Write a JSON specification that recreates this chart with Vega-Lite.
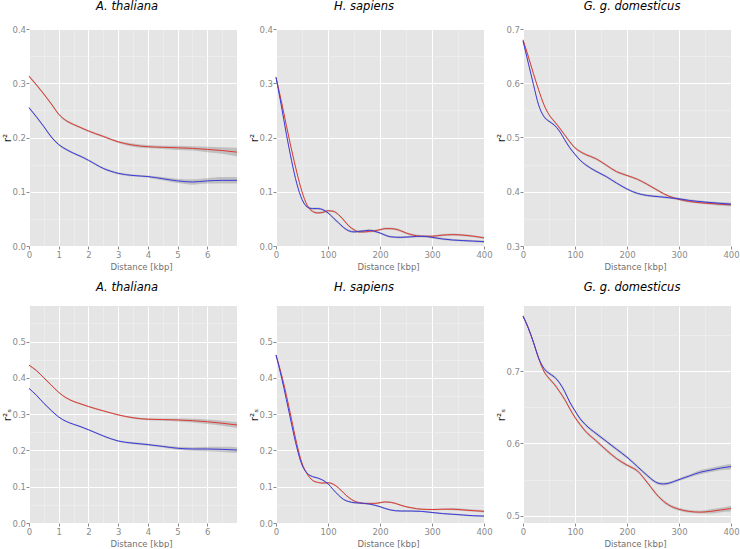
{
  "$schema": "https://vega.github.io/schema/vega-lite/v6.json",
  "padding": {"left": 2, "top": 0, "right": 0, "bottom": 0},
  "background": "white",
  "config": {
    "view": {"fill": "#e5e5e5", "stroke": null},
    "axis": {"domain": false, "labelColor": "#8a8a8a", "labelFontSize": 8.5, "labelFont": "DejaVu Sans", "tickColor": "#8a8a8a", "tickSize": 3, "labelOverlap": false, "labelFlush": false, "titleFont": "DejaVu Sans", "titleFontWeight": "normal"},
    "axisX": {"labelPadding": 1.5, "titleFontSize": 8.5, "titleFontWeight": "normal", "titleColor": "#707070", "titleBaseline": "alphabetic", "titleY": 23, "titleX": 112},
    "axisY": {"labelPadding": 0.5, "titleFontSize": 10.5, "titleFontWeight": "normal", "titleColor": "#111111", "titleAngle": -90, "titleBaseline": "alphabetic", "titleX": -19, "titleY": 108.5},
    "title": {"font": "DejaVu Sans", "fontSize": 11.5, "fontStyle": "italic", "fontWeight": "normal", "color": "#000000", "anchor": "middle", "frame": "group", "baseline": "alphabetic", "offset": 13}
  },
  "datasets": {
    "d": [
      {"p":"a1","s":"r","x":0,"y":0.313,"e":0.002},{"p":"a1","s":"r","x":0.25,"y":0.297,"e":0.002},{"p":"a1","s":"r","x":0.5,"y":0.280,"e":0.002},{"p":"a1","s":"r","x":0.75,"y":0.262,"e":0.002},{"p":"a1","s":"r","x":1,"y":0.243,"e":0.002},{"p":"a1","s":"r","x":1.25,"y":0.231,"e":0.002},{"p":"a1","s":"r","x":1.5,"y":0.224,"e":0.002},{"p":"a1","s":"r","x":1.75,"y":0.218,"e":0.002},{"p":"a1","s":"r","x":2,"y":0.212,"e":0.002},{"p":"a1","s":"r","x":2.5,"y":0.202,"e":0.002},{"p":"a1","s":"r","x":3,"y":0.192,"e":0.002},{"p":"a1","s":"r","x":3.5,"y":0.186,"e":0.003},{"p":"a1","s":"r","x":4,"y":0.183,"e":0.003},{"p":"a1","s":"r","x":4.5,"y":0.182,"e":0.003},{"p":"a1","s":"r","x":5,"y":0.181,"e":0.004},{"p":"a1","s":"r","x":5.5,"y":0.180,"e":0.004},{"p":"a1","s":"r","x":6,"y":0.178,"e":0.005},{"p":"a1","s":"r","x":6.5,"y":0.176,"e":0.006},{"p":"a1","s":"r","x":7,"y":0.173,"e":0.008},
      {"p":"a1","s":"b","x":0,"y":0.255,"e":0.002},{"p":"a1","s":"b","x":0.25,"y":0.238,"e":0.002},{"p":"a1","s":"b","x":0.5,"y":0.220,"e":0.002},{"p":"a1","s":"b","x":0.75,"y":0.201,"e":0.002},{"p":"a1","s":"b","x":1,"y":0.187,"e":0.002},{"p":"a1","s":"b","x":1.25,"y":0.178,"e":0.002},{"p":"a1","s":"b","x":1.5,"y":0.171,"e":0.002},{"p":"a1","s":"b","x":1.75,"y":0.165,"e":0.002},{"p":"a1","s":"b","x":2,"y":0.158,"e":0.002},{"p":"a1","s":"b","x":2.5,"y":0.143,"e":0.002},{"p":"a1","s":"b","x":3,"y":0.134,"e":0.002},{"p":"a1","s":"b","x":3.5,"y":0.130,"e":0.002},{"p":"a1","s":"b","x":4,"y":0.128,"e":0.002},{"p":"a1","s":"b","x":4.5,"y":0.124,"e":0.003},{"p":"a1","s":"b","x":5,"y":0.120,"e":0.004},{"p":"a1","s":"b","x":5.5,"y":0.118,"e":0.005},{"p":"a1","s":"b","x":6,"y":0.120,"e":0.005},{"p":"a1","s":"b","x":6.5,"y":0.121,"e":0.006},{"p":"a1","s":"b","x":7,"y":0.121,"e":0.006},

      {"p":"h1","s":"r","x":0,"y":0.311,"e":0.002},{"p":"h1","s":"r","x":10,"y":0.268,"e":0.002},{"p":"h1","s":"r","x":20,"y":0.222,"e":0.002},{"p":"h1","s":"r","x":30,"y":0.177,"e":0.002},{"p":"h1","s":"r","x":40,"y":0.136,"e":0.002},{"p":"h1","s":"r","x":50,"y":0.100,"e":0.002},{"p":"h1","s":"r","x":60,"y":0.075,"e":0.002},{"p":"h1","s":"r","x":70,"y":0.064,"e":0.002},{"p":"h1","s":"r","x":80,"y":0.061,"e":0.002},{"p":"h1","s":"r","x":90,"y":0.062,"e":0.002},{"p":"h1","s":"r","x":100,"y":0.065,"e":0.002},{"p":"h1","s":"r","x":110,"y":0.064,"e":0.002},{"p":"h1","s":"r","x":120,"y":0.058,"e":0.002},{"p":"h1","s":"r","x":130,"y":0.048,"e":0.002},{"p":"h1","s":"r","x":140,"y":0.037,"e":0.002},{"p":"h1","s":"r","x":150,"y":0.030,"e":0.002},{"p":"h1","s":"r","x":160,"y":0.026,"e":0.002},{"p":"h1","s":"r","x":170,"y":0.026,"e":0.002},{"p":"h1","s":"r","x":180,"y":0.027,"e":0.002},{"p":"h1","s":"r","x":190,"y":0.028,"e":0.002},{"p":"h1","s":"r","x":200,"y":0.030,"e":0.002},{"p":"h1","s":"r","x":210,"y":0.032,"e":0.002},{"p":"h1","s":"r","x":220,"y":0.032,"e":0.002},{"p":"h1","s":"r","x":230,"y":0.031,"e":0.002},{"p":"h1","s":"r","x":240,"y":0.028,"e":0.002},{"p":"h1","s":"r","x":250,"y":0.024,"e":0.002},{"p":"h1","s":"r","x":260,"y":0.021,"e":0.002},{"p":"h1","s":"r","x":270,"y":0.019,"e":0.002},{"p":"h1","s":"r","x":280,"y":0.018,"e":0.002},{"p":"h1","s":"r","x":300,"y":0.018,"e":0.002},{"p":"h1","s":"r","x":320,"y":0.020,"e":0.002},{"p":"h1","s":"r","x":340,"y":0.021,"e":0.002},{"p":"h1","s":"r","x":360,"y":0.020,"e":0.002},{"p":"h1","s":"r","x":380,"y":0.018,"e":0.002},{"p":"h1","s":"r","x":400,"y":0.015,"e":0.002},
      {"p":"h1","s":"b","x":0,"y":0.311,"e":0.002},{"p":"h1","s":"b","x":10,"y":0.260,"e":0.002},{"p":"h1","s":"b","x":20,"y":0.206,"e":0.002},{"p":"h1","s":"b","x":30,"y":0.157,"e":0.002},{"p":"h1","s":"b","x":40,"y":0.115,"e":0.002},{"p":"h1","s":"b","x":50,"y":0.086,"e":0.002},{"p":"h1","s":"b","x":60,"y":0.072,"e":0.002},{"p":"h1","s":"b","x":70,"y":0.069,"e":0.002},{"p":"h1","s":"b","x":80,"y":0.069,"e":0.002},{"p":"h1","s":"b","x":90,"y":0.067,"e":0.002},{"p":"h1","s":"b","x":100,"y":0.061,"e":0.002},{"p":"h1","s":"b","x":110,"y":0.052,"e":0.002},{"p":"h1","s":"b","x":120,"y":0.043,"e":0.002},{"p":"h1","s":"b","x":130,"y":0.034,"e":0.002},{"p":"h1","s":"b","x":140,"y":0.028,"e":0.002},{"p":"h1","s":"b","x":150,"y":0.026,"e":0.002},{"p":"h1","s":"b","x":160,"y":0.027,"e":0.002},{"p":"h1","s":"b","x":170,"y":0.028,"e":0.002},{"p":"h1","s":"b","x":180,"y":0.029,"e":0.002},{"p":"h1","s":"b","x":190,"y":0.027,"e":0.002},{"p":"h1","s":"b","x":200,"y":0.024,"e":0.002},{"p":"h1","s":"b","x":210,"y":0.020,"e":0.002},{"p":"h1","s":"b","x":220,"y":0.017,"e":0.002},{"p":"h1","s":"b","x":240,"y":0.016,"e":0.002},{"p":"h1","s":"b","x":260,"y":0.017,"e":0.002},{"p":"h1","s":"b","x":280,"y":0.018,"e":0.002},{"p":"h1","s":"b","x":300,"y":0.016,"e":0.002},{"p":"h1","s":"b","x":320,"y":0.013,"e":0.002},{"p":"h1","s":"b","x":340,"y":0.011,"e":0.002},{"p":"h1","s":"b","x":360,"y":0.010,"e":0.002},{"p":"h1","s":"b","x":380,"y":0.009,"e":0.002},{"p":"h1","s":"b","x":400,"y":0.008,"e":0.002},

      {"p":"g1","s":"r","x":0,"y":0.680,"e":0.002},{"p":"g1","s":"r","x":10,"y":0.650,"e":0.002},{"p":"g1","s":"r","x":20,"y":0.618,"e":0.002},{"p":"g1","s":"r","x":30,"y":0.588,"e":0.002},{"p":"g1","s":"r","x":40,"y":0.561,"e":0.002},{"p":"g1","s":"r","x":50,"y":0.542,"e":0.002},{"p":"g1","s":"r","x":60,"y":0.530,"e":0.002},{"p":"g1","s":"r","x":70,"y":0.518,"e":0.002},{"p":"g1","s":"r","x":80,"y":0.505,"e":0.002},{"p":"g1","s":"r","x":90,"y":0.492,"e":0.002},{"p":"g1","s":"r","x":100,"y":0.481,"e":0.002},{"p":"g1","s":"r","x":110,"y":0.474,"e":0.002},{"p":"g1","s":"r","x":120,"y":0.469,"e":0.002},{"p":"g1","s":"r","x":140,"y":0.461,"e":0.002},{"p":"g1","s":"r","x":160,"y":0.449,"e":0.002},{"p":"g1","s":"r","x":180,"y":0.437,"e":0.002},{"p":"g1","s":"r","x":200,"y":0.430,"e":0.002},{"p":"g1","s":"r","x":220,"y":0.423,"e":0.002},{"p":"g1","s":"r","x":240,"y":0.413,"e":0.002},{"p":"g1","s":"r","x":260,"y":0.402,"e":0.002},{"p":"g1","s":"r","x":280,"y":0.392,"e":0.002},{"p":"g1","s":"r","x":300,"y":0.386,"e":0.002},{"p":"g1","s":"r","x":320,"y":0.382,"e":0.002},{"p":"g1","s":"r","x":350,"y":0.379,"e":0.002},{"p":"g1","s":"r","x":400,"y":0.376,"e":0.003},
      {"p":"g1","s":"b","x":0,"y":0.678,"e":0.002},{"p":"g1","s":"b","x":10,"y":0.638,"e":0.002},{"p":"g1","s":"b","x":20,"y":0.598,"e":0.002},{"p":"g1","s":"b","x":30,"y":0.560,"e":0.002},{"p":"g1","s":"b","x":40,"y":0.539,"e":0.002},{"p":"g1","s":"b","x":50,"y":0.530,"e":0.002},{"p":"g1","s":"b","x":60,"y":0.523,"e":0.002},{"p":"g1","s":"b","x":70,"y":0.512,"e":0.002},{"p":"g1","s":"b","x":80,"y":0.496,"e":0.002},{"p":"g1","s":"b","x":90,"y":0.481,"e":0.002},{"p":"g1","s":"b","x":100,"y":0.469,"e":0.002},{"p":"g1","s":"b","x":110,"y":0.458,"e":0.002},{"p":"g1","s":"b","x":120,"y":0.450,"e":0.002},{"p":"g1","s":"b","x":140,"y":0.438,"e":0.002},{"p":"g1","s":"b","x":160,"y":0.428,"e":0.002},{"p":"g1","s":"b","x":180,"y":0.416,"e":0.002},{"p":"g1","s":"b","x":200,"y":0.405,"e":0.002},{"p":"g1","s":"b","x":220,"y":0.397,"e":0.002},{"p":"g1","s":"b","x":240,"y":0.393,"e":0.002},{"p":"g1","s":"b","x":260,"y":0.391,"e":0.002},{"p":"g1","s":"b","x":280,"y":0.389,"e":0.002},{"p":"g1","s":"b","x":300,"y":0.387,"e":0.002},{"p":"g1","s":"b","x":320,"y":0.384,"e":0.002},{"p":"g1","s":"b","x":350,"y":0.381,"e":0.002},{"p":"g1","s":"b","x":400,"y":0.377,"e":0.003},

      {"p":"a2","s":"r","x":0,"y":0.435,"e":0.002},{"p":"a2","s":"r","x":0.25,"y":0.420,"e":0.002},{"p":"a2","s":"r","x":0.5,"y":0.400,"e":0.002},{"p":"a2","s":"r","x":0.75,"y":0.380,"e":0.002},{"p":"a2","s":"r","x":1,"y":0.360,"e":0.002},{"p":"a2","s":"r","x":1.25,"y":0.345,"e":0.002},{"p":"a2","s":"r","x":1.5,"y":0.335,"e":0.002},{"p":"a2","s":"r","x":1.75,"y":0.328,"e":0.002},{"p":"a2","s":"r","x":2,"y":0.321,"e":0.002},{"p":"a2","s":"r","x":2.5,"y":0.309,"e":0.002},{"p":"a2","s":"r","x":3,"y":0.298,"e":0.002},{"p":"a2","s":"r","x":3.5,"y":0.290,"e":0.003},{"p":"a2","s":"r","x":4,"y":0.286,"e":0.003},{"p":"a2","s":"r","x":4.5,"y":0.285,"e":0.003},{"p":"a2","s":"r","x":5,"y":0.284,"e":0.004},{"p":"a2","s":"r","x":5.5,"y":0.282,"e":0.005},{"p":"a2","s":"r","x":6,"y":0.279,"e":0.006},{"p":"a2","s":"r","x":6.5,"y":0.275,"e":0.007},{"p":"a2","s":"r","x":7,"y":0.270,"e":0.008},
      {"p":"a2","s":"b","x":0,"y":0.371,"e":0.002},{"p":"a2","s":"b","x":0.25,"y":0.352,"e":0.002},{"p":"a2","s":"b","x":0.5,"y":0.330,"e":0.002},{"p":"a2","s":"b","x":0.75,"y":0.310,"e":0.002},{"p":"a2","s":"b","x":1,"y":0.292,"e":0.002},{"p":"a2","s":"b","x":1.25,"y":0.280,"e":0.002},{"p":"a2","s":"b","x":1.5,"y":0.272,"e":0.002},{"p":"a2","s":"b","x":1.75,"y":0.265,"e":0.002},{"p":"a2","s":"b","x":2,"y":0.257,"e":0.002},{"p":"a2","s":"b","x":2.5,"y":0.240,"e":0.002},{"p":"a2","s":"b","x":3,"y":0.226,"e":0.002},{"p":"a2","s":"b","x":3.5,"y":0.220,"e":0.003},{"p":"a2","s":"b","x":4,"y":0.216,"e":0.003},{"p":"a2","s":"b","x":4.5,"y":0.211,"e":0.003},{"p":"a2","s":"b","x":5,"y":0.206,"e":0.004},{"p":"a2","s":"b","x":5.5,"y":0.204,"e":0.005},{"p":"a2","s":"b","x":6,"y":0.204,"e":0.006},{"p":"a2","s":"b","x":6.5,"y":0.203,"e":0.007},{"p":"a2","s":"b","x":7,"y":0.201,"e":0.008},

      {"p":"h2","s":"r","x":0,"y":0.463,"e":0.002},{"p":"h2","s":"r","x":10,"y":0.412,"e":0.002},{"p":"h2","s":"r","x":20,"y":0.352,"e":0.002},{"p":"h2","s":"r","x":30,"y":0.285,"e":0.002},{"p":"h2","s":"r","x":40,"y":0.218,"e":0.002},{"p":"h2","s":"r","x":50,"y":0.165,"e":0.002},{"p":"h2","s":"r","x":60,"y":0.135,"e":0.002},{"p":"h2","s":"r","x":70,"y":0.118,"e":0.002},{"p":"h2","s":"r","x":80,"y":0.112,"e":0.002},{"p":"h2","s":"r","x":90,"y":0.110,"e":0.002},{"p":"h2","s":"r","x":100,"y":0.111,"e":0.002},{"p":"h2","s":"r","x":110,"y":0.107,"e":0.002},{"p":"h2","s":"r","x":120,"y":0.097,"e":0.002},{"p":"h2","s":"r","x":130,"y":0.083,"e":0.002},{"p":"h2","s":"r","x":140,"y":0.070,"e":0.002},{"p":"h2","s":"r","x":150,"y":0.061,"e":0.002},{"p":"h2","s":"r","x":160,"y":0.056,"e":0.002},{"p":"h2","s":"r","x":170,"y":0.054,"e":0.002},{"p":"h2","s":"r","x":180,"y":0.054,"e":0.002},{"p":"h2","s":"r","x":190,"y":0.054,"e":0.002},{"p":"h2","s":"r","x":200,"y":0.056,"e":0.002},{"p":"h2","s":"r","x":210,"y":0.058,"e":0.002},{"p":"h2","s":"r","x":220,"y":0.057,"e":0.002},{"p":"h2","s":"r","x":230,"y":0.054,"e":0.002},{"p":"h2","s":"r","x":240,"y":0.049,"e":0.002},{"p":"h2","s":"r","x":260,"y":0.042,"e":0.002},{"p":"h2","s":"r","x":280,"y":0.038,"e":0.002},{"p":"h2","s":"r","x":300,"y":0.037,"e":0.002},{"p":"h2","s":"r","x":320,"y":0.038,"e":0.002},{"p":"h2","s":"r","x":340,"y":0.038,"e":0.003},{"p":"h2","s":"r","x":360,"y":0.036,"e":0.003},{"p":"h2","s":"r","x":380,"y":0.034,"e":0.003},{"p":"h2","s":"r","x":400,"y":0.032,"e":0.003},
      {"p":"h2","s":"b","x":0,"y":0.463,"e":0.002},{"p":"h2","s":"b","x":10,"y":0.405,"e":0.002},{"p":"h2","s":"b","x":20,"y":0.340,"e":0.002},{"p":"h2","s":"b","x":30,"y":0.272,"e":0.002},{"p":"h2","s":"b","x":40,"y":0.208,"e":0.002},{"p":"h2","s":"b","x":50,"y":0.160,"e":0.002},{"p":"h2","s":"b","x":60,"y":0.137,"e":0.002},{"p":"h2","s":"b","x":70,"y":0.128,"e":0.002},{"p":"h2","s":"b","x":80,"y":0.124,"e":0.002},{"p":"h2","s":"b","x":90,"y":0.118,"e":0.002},{"p":"h2","s":"b","x":100,"y":0.108,"e":0.002},{"p":"h2","s":"b","x":110,"y":0.092,"e":0.002},{"p":"h2","s":"b","x":120,"y":0.077,"e":0.002},{"p":"h2","s":"b","x":130,"y":0.065,"e":0.002},{"p":"h2","s":"b","x":140,"y":0.059,"e":0.002},{"p":"h2","s":"b","x":150,"y":0.056,"e":0.002},{"p":"h2","s":"b","x":160,"y":0.055,"e":0.002},{"p":"h2","s":"b","x":170,"y":0.054,"e":0.002},{"p":"h2","s":"b","x":180,"y":0.052,"e":0.002},{"p":"h2","s":"b","x":190,"y":0.049,"e":0.002},{"p":"h2","s":"b","x":200,"y":0.045,"e":0.002},{"p":"h2","s":"b","x":210,"y":0.040,"e":0.002},{"p":"h2","s":"b","x":220,"y":0.036,"e":0.002},{"p":"h2","s":"b","x":240,"y":0.033,"e":0.002},{"p":"h2","s":"b","x":260,"y":0.033,"e":0.002},{"p":"h2","s":"b","x":280,"y":0.032,"e":0.002},{"p":"h2","s":"b","x":300,"y":0.029,"e":0.002},{"p":"h2","s":"b","x":320,"y":0.026,"e":0.002},{"p":"h2","s":"b","x":340,"y":0.024,"e":0.002},{"p":"h2","s":"b","x":360,"y":0.022,"e":0.002},{"p":"h2","s":"b","x":380,"y":0.020,"e":0.002},{"p":"h2","s":"b","x":400,"y":0.019,"e":0.002},

      {"p":"g2","s":"r","x":0,"y":0.776,"e":0.002},{"p":"g2","s":"r","x":10,"y":0.760,"e":0.002},{"p":"g2","s":"r","x":20,"y":0.740,"e":0.002},{"p":"g2","s":"r","x":30,"y":0.718,"e":0.002},{"p":"g2","s":"r","x":40,"y":0.700,"e":0.002},{"p":"g2","s":"r","x":50,"y":0.690,"e":0.002},{"p":"g2","s":"r","x":60,"y":0.682,"e":0.002},{"p":"g2","s":"r","x":70,"y":0.672,"e":0.002},{"p":"g2","s":"r","x":80,"y":0.661,"e":0.002},{"p":"g2","s":"r","x":90,"y":0.648,"e":0.002},{"p":"g2","s":"r","x":100,"y":0.636,"e":0.002},{"p":"g2","s":"r","x":110,"y":0.626,"e":0.002},{"p":"g2","s":"r","x":120,"y":0.617,"e":0.002},{"p":"g2","s":"r","x":140,"y":0.604,"e":0.002},{"p":"g2","s":"r","x":160,"y":0.591,"e":0.002},{"p":"g2","s":"r","x":180,"y":0.579,"e":0.002},{"p":"g2","s":"r","x":200,"y":0.570,"e":0.002},{"p":"g2","s":"r","x":220,"y":0.562,"e":0.002},{"p":"g2","s":"r","x":240,"y":0.545,"e":0.002},{"p":"g2","s":"r","x":260,"y":0.527,"e":0.002},{"p":"g2","s":"r","x":280,"y":0.515,"e":0.002},{"p":"g2","s":"r","x":300,"y":0.509,"e":0.002},{"p":"g2","s":"r","x":320,"y":0.506,"e":0.002},{"p":"g2","s":"r","x":340,"y":0.505,"e":0.002},{"p":"g2","s":"r","x":360,"y":0.506,"e":0.003},{"p":"g2","s":"r","x":380,"y":0.508,"e":0.003},{"p":"g2","s":"r","x":400,"y":0.510,"e":0.004},
      {"p":"g2","s":"b","x":0,"y":0.776,"e":0.002},{"p":"g2","s":"b","x":10,"y":0.760,"e":0.002},{"p":"g2","s":"b","x":20,"y":0.740,"e":0.002},{"p":"g2","s":"b","x":30,"y":0.718,"e":0.002},{"p":"g2","s":"b","x":40,"y":0.704,"e":0.002},{"p":"g2","s":"b","x":50,"y":0.697,"e":0.002},{"p":"g2","s":"b","x":60,"y":0.692,"e":0.002},{"p":"g2","s":"b","x":70,"y":0.684,"e":0.002},{"p":"g2","s":"b","x":80,"y":0.672,"e":0.002},{"p":"g2","s":"b","x":90,"y":0.657,"e":0.002},{"p":"g2","s":"b","x":100,"y":0.645,"e":0.002},{"p":"g2","s":"b","x":110,"y":0.634,"e":0.002},{"p":"g2","s":"b","x":120,"y":0.626,"e":0.002},{"p":"g2","s":"b","x":140,"y":0.614,"e":0.002},{"p":"g2","s":"b","x":160,"y":0.603,"e":0.002},{"p":"g2","s":"b","x":180,"y":0.592,"e":0.002},{"p":"g2","s":"b","x":200,"y":0.581,"e":0.002},{"p":"g2","s":"b","x":220,"y":0.568,"e":0.002},{"p":"g2","s":"b","x":240,"y":0.555,"e":0.002},{"p":"g2","s":"b","x":250,"y":0.549,"e":0.002},{"p":"g2","s":"b","x":260,"y":0.545,"e":0.002},{"p":"g2","s":"b","x":270,"y":0.544,"e":0.002},{"p":"g2","s":"b","x":280,"y":0.545,"e":0.002},{"p":"g2","s":"b","x":300,"y":0.550,"e":0.002},{"p":"g2","s":"b","x":320,"y":0.555,"e":0.002},{"p":"g2","s":"b","x":340,"y":0.560,"e":0.003},{"p":"g2","s":"b","x":360,"y":0.563,"e":0.003},{"p":"g2","s":"b","x":380,"y":0.566,"e":0.003},{"p":"g2","s":"b","x":400,"y":0.568,"e":0.004}
    ]
  },
  "columns": 3,
  "spacing": {"row": 60, "column": 39},
  "bounds": "flush",
  "concat": [
    {
      "width": 208, "height": 217,
      "title": {"text": "A. thaliana", "dx": -6},
      "data": {"name": "d"},
      "transform": [{"filter": "datum.p === 'a1'"}],
      "encoding": {
        "x": {"field": "x", "type": "quantitative", "scale": {"domain": [0, 7], "nice": false, "zero": false},
          "axis": {"title": "Distance [kbp]", "format": ".0f", "values": [0,0.5,1,1.5,2,2.5,3,3.5,4,4.5,5,5.5,6,6.5], "labelExpr": "datum.value % 1 === 0 ? datum.label : ''",
            "gridColor": {"condition": {"test": "datum.value % 1 === 0", "value": "#ffffff"}, "value": "#f2f2f2"},
            "gridWidth": {"condition": {"test": "datum.value % 1 === 0", "value": 1}, "value": 0.5},
            "tickOpacity": {"condition": {"test": "datum.value % 1 === 0", "value": 1}, "value": 0}}},
        "y": {"field": "y", "type": "quantitative", "scale": {"domain": [0, 0.4], "nice": false, "zero": false},
          "axis": {"title": "r²", "format": ".1f", "values": [0,0.05,0.1,0.15,0.2,0.25,0.3,0.35,0.4], "labelExpr": "round(datum.value*100) % 10 === 0 ? datum.label : ''",
            "gridColor": {"condition": {"test": "round(datum.value*100) % 10 === 0", "value": "#ffffff"}, "value": "#f2f2f2"},
            "gridWidth": {"condition": {"test": "round(datum.value*100) % 10 === 0", "value": 1}, "value": 0.5},
            "tickOpacity": {"condition": {"test": "round(datum.value*100) % 10 === 0", "value": 1}, "value": 0}}}
      },
      "layer": [
        {"mark": {"type": "errorband", "interpolate": "monotone", "band": {"color": "#888888", "opacity": 0.4}}, "encoding": {"yError": {"field": "e"}, "detail": {"field": "s"}}},
        {"mark": {"type": "line", "interpolate": "monotone", "strokeWidth": 1}, "encoding": {"color": {"field": "s", "type": "nominal", "scale": {"domain": ["r", "b"], "range": ["#de3a32", "#3a3ade"]}, "legend": null}}}
      ]
    },
    {
      "width": 208, "height": 217,
      "title": {"text": "H. sapiens", "dx": -16},
      "data": {"name": "d"},
      "transform": [{"filter": "datum.p === 'h1'"}],
      "encoding": {
        "x": {"field": "x", "type": "quantitative", "scale": {"domain": [0, 400], "nice": false, "zero": false},
          "axis": {"title": "Distance [kbp]", "format": ".0f", "values": [0,50,100,150,200,250,300,350,400], "labelExpr": "datum.value % 100 === 0 ? datum.label : ''",
            "gridColor": {"condition": {"test": "datum.value % 100 === 0", "value": "#ffffff"}, "value": "#f2f2f2"},
            "gridWidth": {"condition": {"test": "datum.value % 100 === 0", "value": 1}, "value": 0.5},
            "tickOpacity": {"condition": {"test": "datum.value % 100 === 0", "value": 1}, "value": 0}}},
        "y": {"field": "y", "type": "quantitative", "scale": {"domain": [0, 0.4], "nice": false, "zero": false},
          "axis": {"title": "r²", "format": ".1f", "values": [0,0.05,0.1,0.15,0.2,0.25,0.3,0.35,0.4], "labelExpr": "round(datum.value*100) % 10 === 0 ? datum.label : ''",
            "gridColor": {"condition": {"test": "round(datum.value*100) % 10 === 0", "value": "#ffffff"}, "value": "#f2f2f2"},
            "gridWidth": {"condition": {"test": "round(datum.value*100) % 10 === 0", "value": 1}, "value": 0.5},
            "tickOpacity": {"condition": {"test": "round(datum.value*100) % 10 === 0", "value": 1}, "value": 0}}}
      },
      "layer": [
        {"mark": {"type": "errorband", "interpolate": "monotone", "band": {"color": "#888888", "opacity": 0.4}}, "encoding": {"yError": {"field": "e"}, "detail": {"field": "s"}}},
        {"mark": {"type": "line", "interpolate": "monotone", "strokeWidth": 1}, "encoding": {"color": {"field": "s", "type": "nominal", "scale": {"domain": ["r", "b"], "range": ["#de3a32", "#3a3ade"]}, "legend": null}}}
      ]
    },
    {
      "width": 208, "height": 217,
      "title": {"text": "G. g. domesticus", "dx": 5},
      "data": {"name": "d"},
      "transform": [{"filter": "datum.p === 'g1'"}],
      "encoding": {
        "x": {"field": "x", "type": "quantitative", "scale": {"domain": [0, 400], "nice": false, "zero": false},
          "axis": {"title": "Distance [kbp]", "format": ".0f", "values": [0,50,100,150,200,250,300,350,400], "labelExpr": "datum.value % 100 === 0 ? datum.label : ''",
            "gridColor": {"condition": {"test": "datum.value % 100 === 0", "value": "#ffffff"}, "value": "#f2f2f2"},
            "gridWidth": {"condition": {"test": "datum.value % 100 === 0", "value": 1}, "value": 0.5},
            "tickOpacity": {"condition": {"test": "datum.value % 100 === 0", "value": 1}, "value": 0}}},
        "y": {"field": "y", "type": "quantitative", "scale": {"domain": [0.3, 0.7], "nice": false, "zero": false},
          "axis": {"title": "r²", "format": ".1f", "values": [0.3,0.35,0.4,0.45,0.5,0.55,0.6,0.65,0.7], "labelExpr": "round(datum.value*100) % 10 === 0 ? datum.label : ''",
            "gridColor": {"condition": {"test": "round(datum.value*100) % 10 === 0", "value": "#ffffff"}, "value": "#f2f2f2"},
            "gridWidth": {"condition": {"test": "round(datum.value*100) % 10 === 0", "value": 1}, "value": 0.5},
            "tickOpacity": {"condition": {"test": "round(datum.value*100) % 10 === 0", "value": 1}, "value": 0}}}
      },
      "layer": [
        {"mark": {"type": "errorband", "interpolate": "monotone", "band": {"color": "#888888", "opacity": 0.4}}, "encoding": {"yError": {"field": "e"}, "detail": {"field": "s"}}},
        {"mark": {"type": "line", "interpolate": "monotone", "strokeWidth": 1}, "encoding": {"color": {"field": "s", "type": "nominal", "scale": {"domain": ["r", "b"], "range": ["#de3a32", "#3a3ade"]}, "legend": null}}}
      ]
    },
    {
      "width": 208, "height": 217,
      "title": {"text": "A. thaliana", "dx": -6},
      "data": {"name": "d"},
      "transform": [{"filter": "datum.p === 'a2'"}],
      "encoding": {
        "x": {"field": "x", "type": "quantitative", "scale": {"domain": [0, 7], "nice": false, "zero": false},
          "axis": {"title": "Distance [kbp]", "format": ".0f", "values": [0,0.5,1,1.5,2,2.5,3,3.5,4,4.5,5,5.5,6,6.5], "labelExpr": "datum.value % 1 === 0 ? datum.label : ''",
            "gridColor": {"condition": {"test": "datum.value % 1 === 0", "value": "#ffffff"}, "value": "#f2f2f2"},
            "gridWidth": {"condition": {"test": "datum.value % 1 === 0", "value": 1}, "value": 0.5},
            "tickOpacity": {"condition": {"test": "datum.value % 1 === 0", "value": 1}, "value": 0}}},
        "y": {"field": "y", "type": "quantitative", "scale": {"domain": [0, 0.598], "nice": false, "zero": false},
          "axis": {"title": "r²ₛ", "format": ".1f", "values": [0,0.05,0.1,0.15,0.2,0.25,0.3,0.35,0.4,0.45,0.5,0.55], "labelExpr": "round(datum.value*100) % 10 === 0 ? datum.label : ''",
            "gridColor": {"condition": {"test": "round(datum.value*100) % 10 === 0", "value": "#ffffff"}, "value": "#f2f2f2"},
            "gridWidth": {"condition": {"test": "round(datum.value*100) % 10 === 0", "value": 1}, "value": 0.5},
            "tickOpacity": {"condition": {"test": "round(datum.value*100) % 10 === 0", "value": 1}, "value": 0}}}
      },
      "layer": [
        {"mark": {"type": "errorband", "interpolate": "monotone", "band": {"color": "#888888", "opacity": 0.4}}, "encoding": {"yError": {"field": "e"}, "detail": {"field": "s"}}},
        {"mark": {"type": "line", "interpolate": "monotone", "strokeWidth": 1}, "encoding": {"color": {"field": "s", "type": "nominal", "scale": {"domain": ["r", "b"], "range": ["#de3a32", "#3a3ade"]}, "legend": null}}}
      ]
    },
    {
      "width": 208, "height": 217,
      "title": {"text": "H. sapiens", "dx": -16},
      "data": {"name": "d"},
      "transform": [{"filter": "datum.p === 'h2'"}],
      "encoding": {
        "x": {"field": "x", "type": "quantitative", "scale": {"domain": [0, 400], "nice": false, "zero": false},
          "axis": {"title": "Distance [kbp]", "format": ".0f", "values": [0,50,100,150,200,250,300,350,400], "labelExpr": "datum.value % 100 === 0 ? datum.label : ''",
            "gridColor": {"condition": {"test": "datum.value % 100 === 0", "value": "#ffffff"}, "value": "#f2f2f2"},
            "gridWidth": {"condition": {"test": "datum.value % 100 === 0", "value": 1}, "value": 0.5},
            "tickOpacity": {"condition": {"test": "datum.value % 100 === 0", "value": 1}, "value": 0}}},
        "y": {"field": "y", "type": "quantitative", "scale": {"domain": [0, 0.598], "nice": false, "zero": false},
          "axis": {"title": "r²ₛ", "format": ".1f", "values": [0,0.05,0.1,0.15,0.2,0.25,0.3,0.35,0.4,0.45,0.5,0.55], "labelExpr": "round(datum.value*100) % 10 === 0 ? datum.label : ''",
            "gridColor": {"condition": {"test": "round(datum.value*100) % 10 === 0", "value": "#ffffff"}, "value": "#f2f2f2"},
            "gridWidth": {"condition": {"test": "round(datum.value*100) % 10 === 0", "value": 1}, "value": 0.5},
            "tickOpacity": {"condition": {"test": "round(datum.value*100) % 10 === 0", "value": 1}, "value": 0}}}
      },
      "layer": [
        {"mark": {"type": "errorband", "interpolate": "monotone", "band": {"color": "#888888", "opacity": 0.4}}, "encoding": {"yError": {"field": "e"}, "detail": {"field": "s"}}},
        {"mark": {"type": "line", "interpolate": "monotone", "strokeWidth": 1}, "encoding": {"color": {"field": "s", "type": "nominal", "scale": {"domain": ["r", "b"], "range": ["#de3a32", "#3a3ade"]}, "legend": null}}}
      ]
    },
    {
      "width": 208, "height": 217,
      "title": {"text": "G. g. domesticus", "dx": 5},
      "data": {"name": "d"},
      "transform": [{"filter": "datum.p === 'g2'"}],
      "encoding": {
        "x": {"field": "x", "type": "quantitative", "scale": {"domain": [0, 400], "nice": false, "zero": false},
          "axis": {"title": "Distance [kbp]", "format": ".0f", "values": [0,50,100,150,200,250,300,350,400], "labelExpr": "datum.value % 100 === 0 ? datum.label : ''",
            "gridColor": {"condition": {"test": "datum.value % 100 === 0", "value": "#ffffff"}, "value": "#f2f2f2"},
            "gridWidth": {"condition": {"test": "datum.value % 100 === 0", "value": 1}, "value": 0.5},
            "tickOpacity": {"condition": {"test": "datum.value % 100 === 0", "value": 1}, "value": 0}}},
        "y": {"field": "y", "type": "quantitative", "scale": {"domain": [0.49, 0.79], "nice": false, "zero": false},
          "axis": {"title": "r²ₛ", "format": ".1f", "values": [0.5,0.55,0.6,0.65,0.7,0.75], "labelExpr": "round(datum.value*100) % 10 === 0 ? datum.label : ''",
            "gridColor": {"condition": {"test": "round(datum.value*100) % 10 === 0", "value": "#ffffff"}, "value": "#f2f2f2"},
            "gridWidth": {"condition": {"test": "round(datum.value*100) % 10 === 0", "value": 1}, "value": 0.5},
            "tickOpacity": {"condition": {"test": "round(datum.value*100) % 10 === 0", "value": 1}, "value": 0}}}
      },
      "layer": [
        {"mark": {"type": "errorband", "interpolate": "monotone", "band": {"color": "#888888", "opacity": 0.4}}, "encoding": {"yError": {"field": "e"}, "detail": {"field": "s"}}},
        {"mark": {"type": "line", "interpolate": "monotone", "strokeWidth": 1}, "encoding": {"color": {"field": "s", "type": "nominal", "scale": {"domain": ["r", "b"], "range": ["#de3a32", "#3a3ade"]}, "legend": null}}}
      ]
    }
  ]
}
